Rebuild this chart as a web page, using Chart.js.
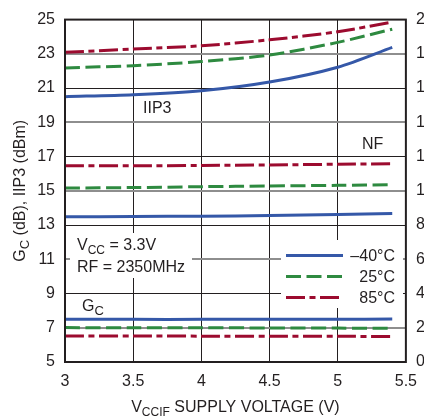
<!DOCTYPE html>
<html>
<head>
<meta charset="utf-8">
<script src="https://cdn.jsdelivr.net/npm/chart.js@4/dist/chart.umd.min.js"></script>
<style>
  body { margin: 0; background: #fff; }
  canvas { display: block; }
</style>
</head>
<body>
<canvas id="grafico" width="427" height="417"></canvas>
<script>
// Valores
const tensao = [3, 3.5, 4, 4.5, 5, 5.4];

const iip3M40 = [20.5, 20.61, 20.84, 21.35, 22.22, 23.38];
const iip3T25 = [22.18, 22.31, 22.55, 22.93, 23.67, 24.44];
const iip3T85 = [23.09, 23.28, 23.47, 23.82, 24.29, 24.86];

// NF no eixo da direita (dB)
const nfM40 = [8.48, 8.5, 8.52, 8.55, 8.62, 8.68];
const nfT25 = [10.16, 10.19, 10.24, 10.28, 10.32, 10.36];
const nfT85 = [11.46, 11.46, 11.48, 11.51, 11.55, 11.58];

const gcM40 = [7.49, 7.49, 7.49, 7.5, 7.5, 7.51];
const gcT25 = [7.01, 7.0, 7.0, 6.99, 6.98, 6.97];
const gcT85 = [6.52, 6.52, 6.51, 6.5, 6.5, 6.49];

const ticksX = [3, 3.5, 4, 4.5, 5, 5.5];
const legendaTemp = ["\u201340\u00b0C", "25\u00b0C", "85\u00b0C"];

const AZUL = "#3558a8";
const VERDE = "#2e8a40";
const VERMELHO = "#9c0b2f";
const PRETO = "#231f20";
const CINZA = "#8e8e8e";
const FONTE = '"Liberation Sans", Arial, sans-serif';

const estilos = [
  { cor: AZUL, dash: [] },
  { cor: VERDE, dash: [15, 5.5] },
  { cor: VERMELHO, dash: [19, 4.5, 6, 4.5] }
];

function serie(valores, estilo, eixo) {
  return {
    data: valores.map((v, i) => ({ x: tensao[i], y: v })),
    borderColor: estilo.cor,
    borderDash: estilo.dash,
    borderWidth: 3,
    borderCapStyle: "butt",
    pointRadius: 0,
    tension: 0.3,
    fill: false,
    yAxisID: eixo
  };
}

// Texto com subscrito: partes [texto, ehSub]
function textoSub(ctx, partes, x, y, tam, tamSub) {
  let px = x;
  partes.forEach(p => {
    ctx.font = (p[1] ? tamSub : tam) + "px " + FONTE;
    ctx.fillText(p[0], px, p[1] ? y + 4 : y);
    px += ctx.measureText(p[0]).width;
  });
  return px - x;
}

function larguraSub(ctx, partes, tam, tamSub) {
  let w = 0;
  partes.forEach(p => {
    ctx.font = (p[1] ? tamSub : tam) + "px " + FONTE;
    w += ctx.measureText(p[0]).width;
  });
  return w;
}

const anotacoes = {
  id: "anotacoes",
  beforeDatasetsDraw(chart) {
    const ctx = chart.ctx;
    ctx.save();
    ctx.fillStyle = "#fff";
    // caixas brancas que interrompem a grade
    ctx.fillRect(70, 233, 122, 45);
    ctx.fillRect(281, 240, 122, 68);
    ctx.restore();
  },
  afterDatasetsDraw(chart) {
    const ctx = chart.ctx;
    const area = chart.chartArea;
    ctx.save();
    ctx.fillStyle = PRETO;
    ctx.textBaseline = "alphabetic";
    ctx.textAlign = "left";

    ctx.font = "16px " + FONTE;
    ctx.fillText("IIP3", 143, 113);
    ctx.fillText("NF", 362, 149);
    textoSub(ctx, [["G", false], ["C", true]], 82, 311, 16, 13);
    textoSub(ctx, [["V", false], ["CC", true], [" = 3.3V", false]], 77, 250, 16, 12);
    ctx.font = "16px " + FONTE;
    ctx.fillText("RF = 2350MHz", 77, 272);

    // legenda
    const ys = [255.5, 276.5, 297.5];
    estilos.forEach((e, i) => {
      ctx.beginPath();
      ctx.strokeStyle = e.cor;
      ctx.lineWidth = 3;
      ctx.setLineDash(e.dash);
      ctx.moveTo(286, ys[i]);
      ctx.lineTo(343, ys[i]);
      ctx.stroke();
      ctx.setLineDash([]);
      ctx.font = "16px " + FONTE;
      ctx.textAlign = "right";
      ctx.textBaseline = "middle";
      ctx.fillText(legendaTemp[i], 395, ys[i] + 1.5);
    });

    // moldura
    ctx.strokeStyle = PRETO;
    ctx.lineWidth = 2;
    ctx.strokeRect(area.left, area.top, area.right - area.left, area.bottom - area.top);

    // título do eixo x
    ctx.textAlign = "left";
    ctx.textBaseline = "alphabetic";
    const partesX = [["V", false], ["CCIF", true], [" SUPPLY VOLTAGE (V)", false]];
    const wx = larguraSub(ctx, partesX, 16, 12);
    textoSub(ctx, partesX, (area.left + area.right) / 2 - wx / 2, 412, 16, 12);

    // título do eixo y
    const partesY = [["G", false], ["C", true], [" (dB), IIP3 (dBm)", false]];
    const wy = larguraSub(ctx, partesY, 16, 13);
    ctx.translate(25, (area.top + area.bottom) / 2);
    ctx.rotate(-Math.PI / 2);
    textoSub(ctx, partesY, -wy / 2, 0, 16, 13);
    ctx.restore();
  }
};

const contexto = document.getElementById("grafico").getContext("2d");

new Chart(contexto, {
  type: "line",
  data: {
    datasets: [
      serie(iip3M40, estilos[0], "y"),
      serie(iip3T25, estilos[1], "y"),
      serie(iip3T85, estilos[2], "y"),
      serie(nfM40, estilos[0], "y2"),
      serie(nfT25, estilos[1], "y2"),
      serie(nfT85, estilos[2], "y2"),
      serie(gcM40, estilos[0], "y"),
      serie(gcT25, estilos[1], "y"),
      serie(gcT85, estilos[2], "y")
    ]
  },
  options: {
    responsive: false,
    animation: false,
    layout: { padding: { top: 17, left: 0, right: 0, bottom: 0 } },
    plugins: { legend: { display: false }, tooltip: { enabled: false } },
    scales: {
      x: {
        type: "linear",
        min: 3,
        max: 5.5,
        afterBuildTicks: s => { s.ticks = ticksX.map(v => ({ value: v })); },
        afterFit: s => { s.height = 55; },
        border: { display: false },
        grid: { color: PRETO, lineWidth: 1, drawTicks: false },
        ticks: {
          color: PRETO,
          padding: 10,
          maxRotation: 0,
          callback: v => String(v),
          font: { family: FONTE, size: 16 }
        }
      },
      y: {
        position: "left",
        min: 5,
        max: 25,
        afterFit: s => { s.width = 65; },
        border: { display: false },
        grid: {
          drawTicks: false,
          color: c => ((c.tick.value - 7) % 4 === 0 ? CINZA : PRETO),
          lineWidth: c => ((c.tick.value - 7) % 4 === 0 ? 2 : 1)
        },
        ticks: { stepSize: 2, color: PRETO, padding: 10, font: { family: FONTE, size: 16 } }
      },
      y2: {
        position: "right",
        min: 0,
        max: 20,
        afterFit: s => { s.width = 18; },
        border: { display: false },
        grid: { display: false, drawTicks: false },
        ticks: { stepSize: 2, color: PRETO, padding: 10, font: { family: FONTE, size: 16 } }
      }
    }
  },
  plugins: [anotacoes]
});
</script>
</body>
</html>
